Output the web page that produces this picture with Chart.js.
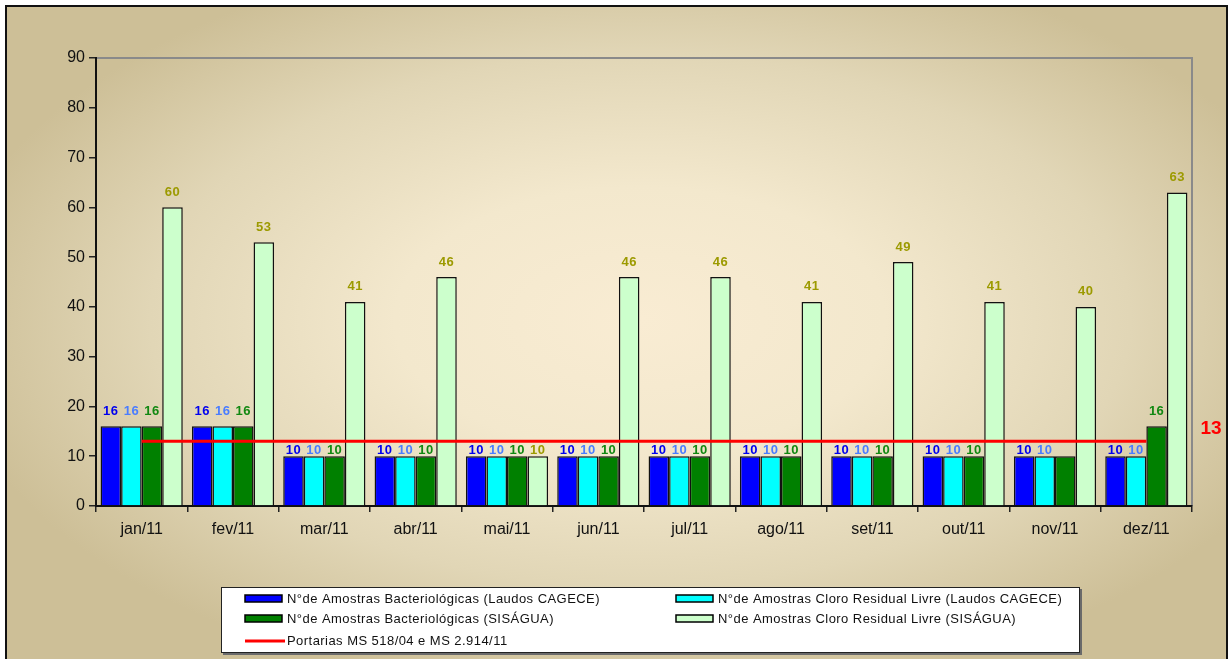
<!DOCTYPE html>
<html>
<head>
<meta charset="utf-8">
<script src="https://cdn.jsdelivr.net/npm/chart.js@4/dist/chart.umd.min.js"></script>
<style>
  html, body { margin: 0; padding: 0; background: #ffffff; }
  #wrap { position: relative; width: 1230px; height: 659px; }
  canvas { display: block; }
</style>
</head>
<body>
<div id="wrap"><canvas id="c" width="1230" height="659"></canvas></div>
<script>
// ---- Data ----
const categories = ['jan/11','fev/11','mar/11','abr/11','mai/11','jun/11','jul/11','ago/11','set/11','out/11','nov/11','dez/11'];
const bactCagece   = [16,16,10,10,10,10,10,10,10,10,10,10];
const cloroCagece  = [16,16,10,10,10,10,10,10,10,10,10,10];
const bactSisagua  = [16,16,10,10,10,10,10,10,10,10,10,16];
const cloroSisagua = [60,53,41,46,10,46,46,41,49,41,40,63];
const portarias    = [13,13,13,13,13,13,13,13,13,13,13,13];
const yTicks = [0,10,20,30,40,50,60,70,80,90];
const seriesNames = [
  'N°de Amostras Bacteriológicas (Laudos CAGECE)',
  'N°de Amostras Cloro Residual Livre (Laudos CAGECE)',
  'N°de Amostras Bacteriológicas (SISÁGUA)',
  'N°de Amostras Cloro Residual Livre (SISÁGUA)',
  'Portarias MS 518/04 e MS 2.914/11'
];
// labels not shown in the reference: [datasetIndex, pointIndex]
const hiddenLabels = [[2,10]];

// ---- Styles ----
const barColors = ['#0000ff', '#00ffff', '#008000', '#ccffcc'];
const labelColors = ['#0000ee', '#4a7dff', '#118811', '#9c9a00'];
const FONT = '"Liberation Sans", Arial, sans-serif';

const bgPlugin = {
  id: 'bg',
  beforeDraw(chart) {
    const ctx = chart.ctx;
    const W = chart.width, H = chart.height;
    ctx.save();
    ctx.fillStyle = '#ffffff';
    ctx.fillRect(0, 0, W, H);
    const cx = 640, cy = 320, rx = 700, ry = 380;
    ctx.save();
    ctx.beginPath();
    ctx.rect(6, 6, 1221, H);
    ctx.clip();
    ctx.translate(cx, cy);
    ctx.scale(1, ry / rx);
    const g = ctx.createRadialGradient(0, 0, 0, 0, 0, rx);
    g.addColorStop(0, '#f9ecd3');
    g.addColorStop(0.35, '#f3e8cd');
    g.addColorStop(0.7, '#e1d6b6');
    g.addColorStop(1, '#cdbf97');
    ctx.fillStyle = g;
    ctx.fillRect(-cx - 10, -(cy + 10) * rx / ry, W + 20, (H + 20) * rx / ry);
    ctx.restore();
    ctx.strokeStyle = '#111';
    ctx.lineWidth = 2;
    ctx.strokeRect(6, 6, 1221, H + 10);
    const a = chart.chartArea;
    ctx.strokeStyle = '#8a8a8a';
    ctx.lineWidth = 2;
    ctx.beginPath();
    ctx.moveTo(a.left, a.top);
    ctx.lineTo(a.right, a.top);
    ctx.lineTo(a.right, a.bottom);
    ctx.stroke();
    ctx.restore();
  }
};

const labelPlugin = {
  id: 'vals',
  afterDatasetsDraw(chart) {
    const ctx = chart.ctx;
    ctx.save();
    ctx.font = 'bold 13px ' + FONT;
    ctx.textAlign = 'center';
    ctx.textBaseline = 'middle';
    try { ctx.letterSpacing = '0.5px'; } catch (e) {}
    for (let d = 0; d < 4; d++) {
      const meta = chart.getDatasetMeta(d);
      const data = chart.data.datasets[d].data;
      meta.data.forEach((el, i) => {
        if (hiddenLabels.some(h => h[0] === d && h[1] === i)) return;
        const v = data[i];
        const off = v <= 10 ? 6 : 15;
        ctx.fillStyle = labelColors[d];
        ctx.fillText(String(v), el.x, el.y - off);
      });
    }
    const ys = chart.scales.y;
    ctx.font = 'bold 19px ' + FONT;
    ctx.fillStyle = '#ff0000';
    try { ctx.letterSpacing = '0px'; } catch (e) {}
    const last = portarias[portarias.length - 1];
    ctx.fillText(String(last), chart.chartArea.right + 19, ys.getPixelForValue(last) - 13);
    ctx.restore();
  }
};

const legendPlugin = {
  id: 'customLegend',
  afterDraw(chart) {
    const ctx = chart.ctx;
    ctx.save();
    const L = 221, T = 587, R = 1080, B = 653;
    ctx.fillStyle = '#6a6a6a';
    ctx.fillRect(L + 2, T + 2, R - L, B - T);
    ctx.fillStyle = '#ffffff';
    ctx.fillRect(L, T, R - L, B - T);
    ctx.strokeStyle = '#222';
    ctx.lineWidth = 1;
    ctx.strokeRect(L + 0.5, T + 0.5, R - L - 1, B - T - 1);
    const items = [
      { x: 245, y: 599, kind: 'box', color: barColors[0], text: seriesNames[0] },
      { x: 676, y: 599, kind: 'box', color: barColors[1], text: seriesNames[1] },
      { x: 245, y: 619, kind: 'box', color: barColors[2], text: seriesNames[2] },
      { x: 676, y: 619, kind: 'box', color: barColors[3], text: seriesNames[3] },
      { x: 245, y: 641, kind: 'line', color: '#ff0000', text: seriesNames[4] }
    ];
    ctx.font = '13px ' + FONT;
    ctx.textAlign = 'left';
    ctx.textBaseline = 'middle';
    try { ctx.letterSpacing = '0.45px'; } catch (e) {}
    items.forEach(it => {
      if (it.kind === 'box') {
        ctx.fillStyle = it.color;
        ctx.fillRect(it.x, it.y - 4, 37, 7);
        ctx.strokeStyle = '#000';
        ctx.lineWidth = 1.5;
        ctx.strokeRect(it.x, it.y - 4, 37, 7);
      } else {
        ctx.strokeStyle = it.color;
        ctx.lineWidth = 3;
        ctx.beginPath();
        ctx.moveTo(it.x, it.y);
        ctx.lineTo(it.x + 40, it.y);
        ctx.stroke();
      }
      ctx.fillStyle = '#111';
      ctx.fillText(it.text, it.x + 42, it.y);
    });
    ctx.restore();
  }
};

const barDs = (label, data, i) => ({
  type: 'bar',
  label,
  data,
  backgroundColor: barColors[i],
  borderColor: '#111',
  borderWidth: 1.5,
  categoryPercentage: 0.9,
  barPercentage: 1.0,
  order: 2
});

new Chart(document.getElementById('c'), {
  data: {
    labels: categories,
    datasets: [
      barDs(seriesNames[0], bactCagece, 0),
      barDs(seriesNames[1], cloroCagece, 1),
      barDs(seriesNames[2], bactSisagua, 2),
      barDs(seriesNames[3], cloroSisagua, 3),
      {
        type: 'line',
        label: seriesNames[4],
        data: portarias,
        borderColor: '#ff0000',
        borderWidth: 3,
        pointRadius: 0,
        fill: false,
        order: 0
      }
    ]
  },
  options: {
    responsive: false,
    animation: false,
    devicePixelRatio: 1,
    layout: { padding: { left: 0, right: 38, top: 58, bottom: 113 } },
    plugins: {
      legend: { display: false },
      tooltip: { enabled: false }
    },
    scales: {
      x: {
        offset: true,
        grid: { display: true, drawOnChartArea: false, offset: true, tickLength: 6, color: '#222', lineWidth: 1.5 },
        border: { display: true, color: '#111', width: 2 },
        ticks: { font: { family: FONT, size: 16 }, color: '#111', padding: 8, maxRotation: 0 },
        afterFit(s) { s.height = 40; }
      },
      y: {
        min: yTicks[0],
        max: yTicks[yTicks.length - 1],
        afterBuildTicks(s) { s.ticks = yTicks.map(v => ({ value: v })); },
        grid: { display: true, drawOnChartArea: false, tickLength: 7, color: '#222', lineWidth: 1.5 },
        border: { display: true, color: '#111', width: 2 },
        ticks: { font: { family: FONT, size: 16 }, color: '#111', padding: 4 },
        afterFit(s) { s.width = 96; }
      }
    }
  },
  plugins: [bgPlugin, labelPlugin, legendPlugin]
});
</script>
</body>
</html>
